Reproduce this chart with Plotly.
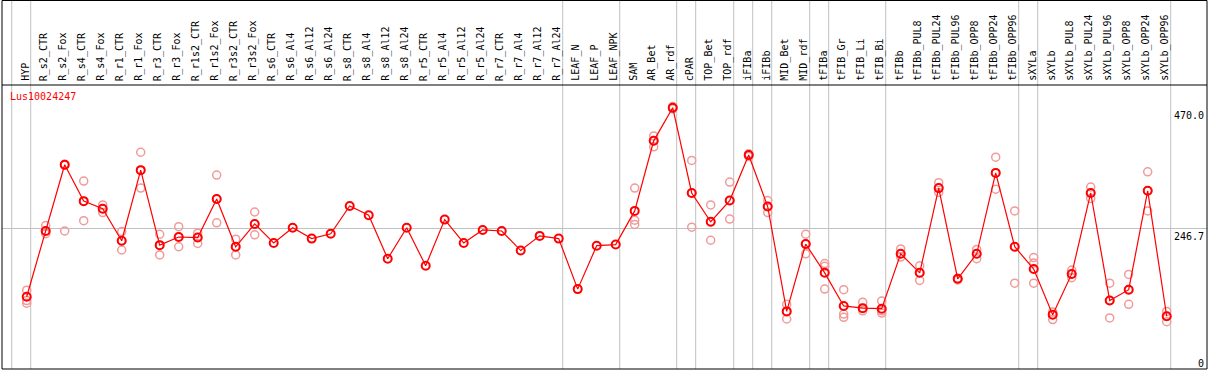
import plotly.graph_objects as go

gene = "Lus10024247"

categories = [
    "HYP", "R_s2_CTR", "R_s2_Fox", "R_s4_CTR", "R_s4_Fox", "R_r1_CTR", "R_r1_Fox",
    "R_r3_CTR", "R_r3_Fox", "R_r1s2_CTR", "R_r1s2_Fox", "R_r3s2_CTR", "R_r3s2_Fox",
    "R_s6_CTR", "R_s6_Al4", "R_s6_Al12", "R_s6_Al24", "R_s8_CTR", "R_s8_Al4",
    "R_s8_Al12", "R_s8_Al24", "R_r5_CTR", "R_r5_Al4", "R_r5_Al12", "R_r5_Al24",
    "R_r7_CTR", "R_r7_Al4", "R_r7_Al12", "R_r7_Al24", "LEAF_N", "LEAF_P", "LEAF_NPK",
    "SAM", "AR_Bet", "AR_rdf", "cPAR", "TOP_Bet", "TOP_rdf", "iFIBa", "iFIBb",
    "MID_Bet", "MID_rdf", "tFIBa", "tFIB_Gr", "tFIB_Li", "tFIB_Bi", "tFIBb",
    "tFIBb_PUL8", "tFIBb_PUL24", "tFIBb_PUL96", "tFIBb_OPP8", "tFIBb_OPP24",
    "tFIBb_OPP96", "sXYLa", "sXYLb", "sXYLb_PUL8", "sXYLb_PUL24", "sXYLb_PUL96",
    "sXYLb_OPP8", "sXYLb_OPP24", "sXYLb_OPP96",
]

means = [
    122, 243, 365, 298, 284, 225, 355, 217, 232, 231, 302, 214, 256,
    221, 249, 229, 238, 289, 272, 192, 249, 179, 264, 221, 245, 243, 207, 234, 229,
    136, 216, 218,
    280, 409, 470, 313, 260, 299, 383, 288, 95, 219, 166, 105, 101, 100,
    201, 166, 322, 155, 201, 350, 214,
    173, 89, 164, 313, 115, 135, 317, 86,
]

replicates = [
    [134, 115, 110], [253, 238, 243], [243, 366, 364], [335, 262, 298], [291, 277, 284],
    [242, 208, 225], [388, 322, 355], [237, 199, 217], [251, 214, 232], [239, 220, 231],
    [346, 258, 302], [228, 199, 214], [278, 236, 256],
    [], [], [], [], [], [], [], [], [], [], [], [], [], [], [], [], [], [], [],
    [322, 263, 255], [418, 398, 409], [472, 468, 470], [373, 250, 313], [291, 226, 260],
    [333, 265, 299], [385, 380, 383], [299, 277, 288], [108, 81, 95], [237, 201, 219],
    [183, 178, 136], [135, 90, 84], [112, 96, 101], [114, 92, 96],
    [210, 195, 201], [179, 152, 166], [332, 314, 322], [153, 156, 155], [209, 192, 201],
    [379, 320, 350], [280, 147, 214],
    [194, 184, 147], [94, 80, 89], [171, 157, 164], [324, 303, 313], [147, 83, 115],
    [163, 108, 135], [352, 280, 317], [95, 76, 86],
]

# group separators: drawn after these category indices
separators_after = [-1, 0, 28, 31, 34, 35, 37, 38, 39, 41, 42, 45, 52, 53, 60]

y_tick_vals = [0, 246.7, 470.0]
y_tick_text = ["0", "246.7", "470.0"]

# ---------------------------------------------------------------
W, H = 1209, 370
ML, MR, MT, MB = 2, 2, 85, 1
plot_h = H - MT - MB
FONT = "DejaVu Sans Mono"

xs = list(range(len(categories)))
rep_x, rep_y = [], []
for i, reps in enumerate(replicates):
    for v in reps:
        rep_x.append(i)
        rep_y.append(v)

fig = go.Figure()
fig.add_trace(go.Scatter(
    x=rep_x, y=rep_y, mode="markers",
    marker=dict(symbol="circle-open", size=8, color="#f09a9a", line=dict(width=1.5, color="#f09a9a")),
    hoverinfo="skip", cliponaxis=False,
))
fig.add_trace(go.Scatter(
    x=xs, y=means, mode="lines+markers",
    line=dict(color="#ff0000", width=1.2),
    marker=dict(symbol="circle-open", size=8, color="#ff0000", line=dict(width=2, color="#ff0000")),
    cliponaxis=False,
))

shapes = []
top_ext = 1 + (MT - 0.5) / plot_h
for s in separators_after:
    shapes.append(dict(type="line", xref="x", yref="paper", x0=s + 0.21, x1=s + 0.21,
                       y0=0, y1=top_ext, line=dict(color="#c0c0c0", width=1), layer="below"))
# plot-top line and outer frame
shapes.append(dict(type="line", xref="paper", yref="paper", x0=0, x1=1, y0=1, y1=1,
                   line=dict(color="black", width=1)))
shapes.append(dict(type="rect", xref="paper", yref="paper", x0=0, x1=1, y0=0, y1=top_ext,
                   line=dict(color="black", width=1)))

annotations = []
for i, c in enumerate(categories):
    annotations.append(dict(x=i, xref="x", y=1 + 2 / plot_h, yref="paper", text=c,
                            showarrow=False, textangle=-90, xanchor="center", yanchor="bottom",
                            xshift=-2, font=dict(family=FONT, size=10, color="black")))
for v, t in zip(y_tick_vals, y_tick_text):
    annotations.append(dict(x=1, xref="paper", y=v, yref="y", text=t, showarrow=False,
                            xanchor="right", yanchor="middle" if v == 0 else "top",
                            xshift=-1, font=dict(family=FONT, size=10, color="black")))
annotations.append(dict(x=0, xref="paper", y=1 - (96.5 - MT) / plot_h, yref="paper", text=gene,
                        showarrow=False, xanchor="left", yanchor="middle", xshift=6,
                        font=dict(family=FONT, size=10, color="#ff0000")))

x_scale = 19.0
x0_px = 26.7
y_scale = 0.5432
y0_px = 363.0

fig.update_layout(
    width=W, height=H,
    margin=dict(l=ML, r=MR, t=MT, b=MB, pad=0),
    paper_bgcolor="white", plot_bgcolor="white",
    showlegend=False,
    xaxis=dict(range=[(ML - x0_px) / x_scale, (W - MR - x0_px) / x_scale],
               showgrid=False, zeroline=False, showticklabels=False, ticks=""),
    yaxis=dict(range=[(y0_px - (H - MB)) / y_scale, (y0_px - MT) / y_scale],
               tickvals=[246.7], showgrid=True, gridcolor="#c0c0c0", gridwidth=1,
               zeroline=False, showticklabels=False, ticks=""),
    shapes=shapes, annotations=annotations,
)

fig.write_html(
    "out.html",
    config={"displayModeBar": False},
    post_script="document.body.style.margin='0';document.body.style.overflow='hidden';",
)
